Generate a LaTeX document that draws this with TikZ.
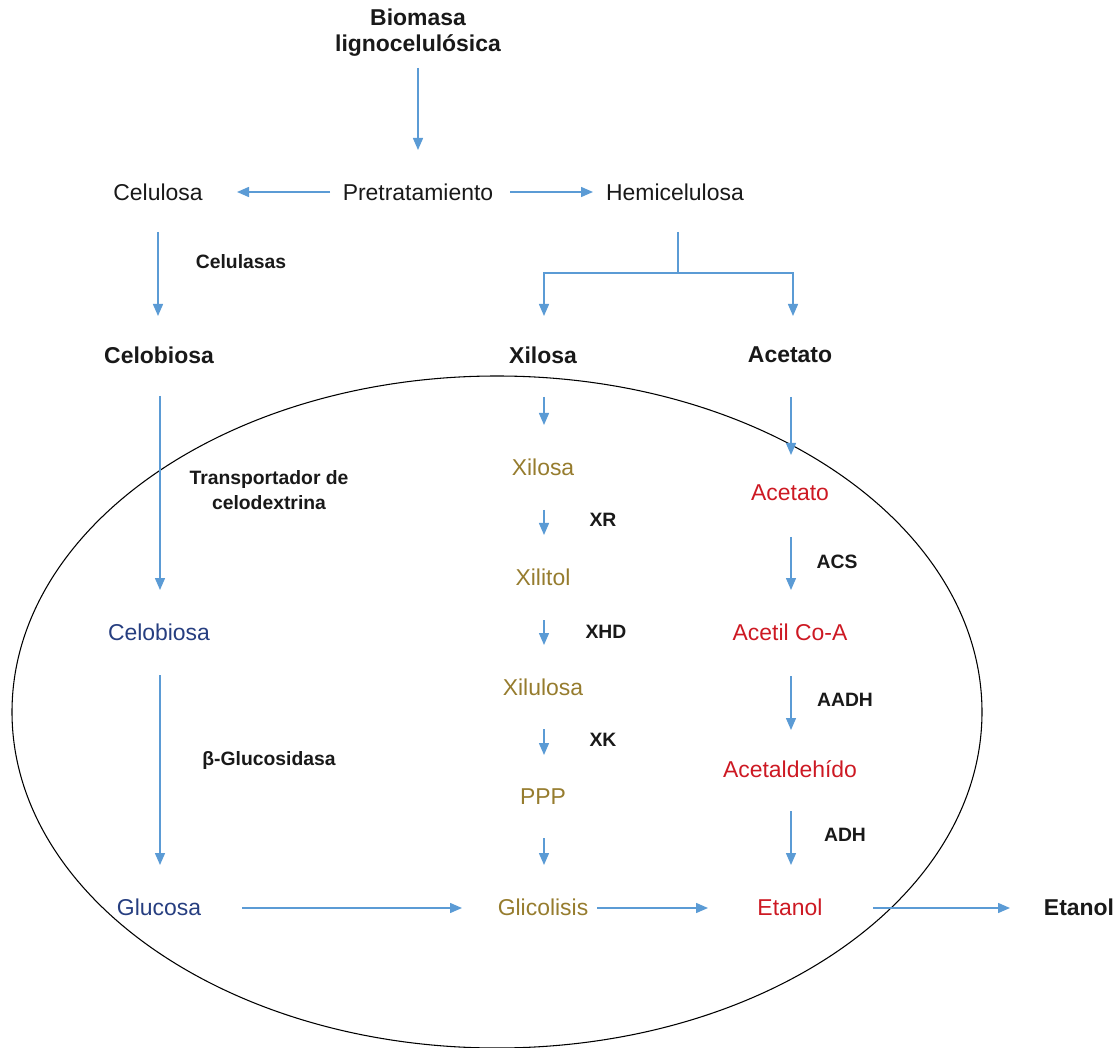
\documentclass[tikz,border=0pt]{standalone}
\usepackage{fontspec}
\setmainfont{Liberation Sans}
\usetikzlibrary{arrows.meta,calc}
\definecolor{arrblue}{RGB}{91,155,213}
\definecolor{gold}{RGB}{150,124,46}
\definecolor{cred}{RGB}{205,25,35}
\definecolor{cnavy}{RGB}{38,62,128}
\definecolor{txt}{RGB}{25,25,25}
\begin{document}
\begin{tikzpicture}[x=0.75pt,y=-0.75pt,
  big/.style={inner sep=0pt,font=\fontsize{17.2pt}{19.5pt}\selectfont,text=txt,align=center},
  bigb/.style={big,font=\fontsize{17.2pt}{19.5pt}\selectfont\bfseries},
  enz/.style={inner sep=0pt,font=\fontsize{14.5pt}{18.75pt}\selectfont\bfseries,text=txt,align=center},
  golden/.style={big,text=gold},
  reddish/.style={big,text=cred},
  navy/.style={big,text=cnavy},
  arr/.style={draw=arrblue,line width=1.1pt,-{Triangle[length=9pt,width=7.5pt]}},
  ln/.style={draw=arrblue,line width=1.1pt}]
\useasboundingbox (0,0) rectangle (1118,1048);
% cell membrane
\draw[black,line width=0.8pt] (497,712) ellipse [x radius=363.75pt, y radius=252pt];
% nodes
\node[bigb] (bio) at (418,33) {Biomasa\\lignocelulósica};
\node[big] (pre) at (418,192) {Pretratamiento};
\node[big] (cel) at (158,192) {Celulosa};
\node[big] (hemi) at (675,192) {Hemicelulosa};
\node[bigb] (cb1) at (159,355) {Celobiosa};
\node[bigb] (xil1) at (543,355) {Xilosa};
\node[bigb] (ace1) at (790,355) {Acetato};
\node[navy] (cb2) at (159,632) {Celobiosa};
\node[navy] (glu) at (159,907) {Glucosa};
\node[golden] (xil2) at (543,467) {Xilosa};
\node[golden] (xit) at (543,577) {Xilitol};
\node[golden] (xlu) at (543,687) {Xilulosa};
\node[golden] (ppp) at (543,797) {PPP};
\node[golden] (gli) at (543,907) {Glicolisis};
\node[reddish] (ace2) at (790,493) {Acetato};
\node[reddish] (acoa) at (790,632) {Acetil Co-A};
\node[reddish] (ald) at (790,769) {Acetaldehído};
\node[reddish] (et1) at (790,907) {Etanol};
\node[bigb] (et2) at (1079,907) {Etanol};
% enzyme labels
\node[enz] (l1) at (241,262) {Celulasas};
\node[enz] (l2) at (269,490) {Transportador de\\celodextrina};
\node[enz] (l3) at (269,760) {β-Glucosidasa};
\node[enz] (l4) at (603,520) {XR};
\node[enz] (l5) at (606,632) {XHD};
\node[enz] (l6) at (603,740) {XK};
\node[enz] (l7) at (837,562) {ACS};
\node[enz] (l8) at (845,700) {AADH};
\node[enz] (l9) at (845,835) {ADH};
% arrows
\draw[arr,shorten <=26.25pt,shorten >=31.5pt] (bio.center) -- (pre.center);
\draw[arr,shorten <=66pt,shorten >=59.25pt] (pre.center) -- (cel.center);
\draw[arr,shorten <=69pt,shorten >=61.5pt] (pre.center) -- (hemi.center);
\draw[arr,shorten <=30pt,shorten >=29.25pt] (cel.center) -- (cel.center |- cb1.center);
% hemicellulose fork
\coordinate (fork) at ($(hemi.center)+(3,81)$);
\draw[ln] ($(hemi.center)+(3,40)$) -- (fork);
\draw[arr] (fork) -| ($(xil1.center)+(1,-39)$);
\draw[arr] (fork) -| ($(ace1.center)+(3,-39)$);
% cellobiose branch
\draw[arr,shorten <=30.75pt,shorten >=31.5pt] ($(cb1.center)+(1,0)$) -- ($(cb2.center)+(1,0)$);
\draw[arr,shorten <=32.25pt,shorten >=31.5pt] ($(cb2.center)+(1,0)$) -- ($(glu.center)+(1,0)$);
% xylose branch
\draw[arr,shorten <=31.5pt,shorten >=31.5pt] ($(xil1.center)+(1,0)$) -- ($(xil2.center)+(1,0)$);
\draw[arr,shorten <=32.25pt,shorten >=31.5pt] ($(xil2.center)+(1,0)$) -- ($(xit.center)+(1,0)$);
\draw[arr,shorten <=32.25pt,shorten >=31.5pt] ($(xit.center)+(1,0)$) -- ($(xlu.center)+(1,0)$);
\draw[arr,shorten <=31.5pt,shorten >=31.5pt] ($(xlu.center)+(1,0)$) -- ($(ppp.center)+(1,0)$);
\draw[arr,shorten <=30.75pt,shorten >=31.5pt] ($(ppp.center)+(1,0)$) -- ($(gli.center)+(1,0)$);
% acetate branch
\draw[arr,shorten <=31.5pt,shorten >=28.5pt] ($(ace1.center)+(1,0)$) -- ($(ace2.center)+(1,0)$);
\draw[arr,shorten <=33pt,shorten >=31.5pt] ($(ace2.center)+(1,0)$) -- ($(acoa.center)+(1,0)$);
\draw[arr,shorten <=33pt,shorten >=29.25pt] ($(acoa.center)+(1,0)$) -- ($(ald.center)+(1,0)$);
\draw[arr,shorten <=31.5pt,shorten >=31.5pt] ($(ald.center)+(1,0)$) -- ($(et1.center)+(1,0)$);
% bottom row
\draw[arr,shorten <=62.25pt,shorten >=60.75pt] ($(glu.center)+(0,1)$) -- ($(gli.center)+(0,1)$);
\draw[arr,shorten <=40.5pt,shorten >=61.5pt] ($(gli.center)+(0,1)$) -- ($(et1.center)+(0,1)$);
\draw[arr,shorten <=62.25pt,shorten >=51.75pt] ($(et1.center)+(0,1)$) -- ($(et2.center)+(0,1)$);
\end{tikzpicture}
\end{document}
